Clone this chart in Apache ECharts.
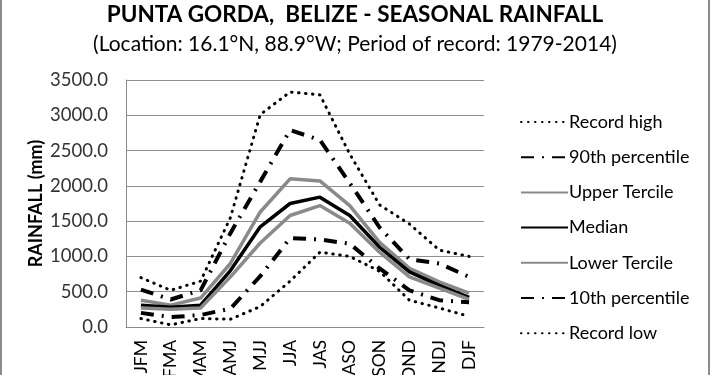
<!DOCTYPE html>
<html>
<head>
<meta charset="utf-8">
<script src="https://cdn.jsdelivr.net/npm/echarts@6/dist/echarts.min.js"></script>
<style>
html,body{margin:0;padding:0;background:#fff;}
#frame{position:absolute;left:0;top:0;width:706px;height:375px;border-left:2px solid #8c8c8c;border-right:2px solid #8c8c8c;}
#c{position:absolute;left:0;top:0;width:710px;height:375px;}
</style>
</head>
<body>
<div id="c"></div>
<div id="frame"></div>
<script>
const categories = ['JFM','FMA','MAM','AMJ','MJJ','JJA','JAS','ASO','SON','OND','NDJ','DJF'];
const recordHigh   = [700, 520, 650, 1550, 3010, 3330, 3290, 2450, 1730, 1460, 1090, 1000];
const p90          = [530, 390, 520, 1330, 2060, 2790, 2650, 2040, 1410, 960, 900, 710];
const upperTercile = [380, 310, 410, 900, 1630, 2100, 2070, 1720, 1200, 830, 640, 480];
const median       = [310, 280, 310, 800, 1420, 1750, 1840, 1580, 1130, 780, 590, 420];
const lowerTercile = [270, 250, 270, 710, 1190, 1580, 1720, 1470, 1060, 710, 550, 390];
const p10          = [200, 140, 170, 260, 720, 1260, 1240, 1180, 830, 520, 380, 350];
const recordLow    = [120, 30, 120, 110, 290, 650, 1060, 1000, 790, 380, 270, 150];
const yTicks = {min: 0, max: 3500, interval: 500};

const FONT = 'Lato';
const dotted = {color:'#000', width:3, type:[0.5,6.5], cap:'round'};
const dashDot = {color:'#000', width:4, type:[13,8,2,8], cap:'butt'};
function s(name, data, ls){
  return {name, type:'line', data, symbol:'none', smooth:false, lineStyle:ls, itemStyle:{color:ls.color}, z: 2};
}
const chart = echarts.init(document.getElementById('c'), null, {renderer:'canvas'});
chart.setOption({
  animation:false,
  backgroundColor:'#fff',
  title:[
    {text:'PUNTA GORDA,  BELIZE - SEASONAL RAINFALL', left:'center', top:-2,
     textStyle:{fontFamily:FONT, fontWeight:'bold', fontSize:22.5, color:'#000'}},
    {text:'(Location: 16.1°N, 88.9°W; Period of record: 1979-2014)', left:'center', top:29,
     textStyle:{fontFamily:FONT, fontWeight:'normal', fontSize:21, color:'#000'}}
  ],
  grid:{left:126, right:226, top:80, bottom:48, containLabel:false, outerBoundsMode:'none'},
  legend:{
    orient:'vertical', left:515, top:108, itemWidth:47, itemHeight:20, itemGap:17.2,
    itemStyle:{opacity:0, color:'rgba(0,0,0,0)', borderWidth:0},
    textStyle:{fontFamily:FONT, fontSize:18, color:'#000', padding:[0,0,0,-4]},
    data:['Record high','90th percentile','Upper Tercile','Median','Lower Tercile','10th percentile','Record low']
  },
  xAxis:{
    type:'category', data:categories, boundaryGap:true,
    axisLine:{lineStyle:{color:'#8c8c8c', width:1}},
    axisTick:{show:false},
    axisLabel:{rotate:90, margin:13, fontFamily:FONT, fontSize:17.5, color:'#000', interval:0}
  },
  yAxis:{
    type:'value', min:yTicks.min, max:yTicks.max, interval:yTicks.interval,
    name:'RAINFALL (mm)', nameLocation:'middle', nameGap:81, nameRotate:90, nameMoveOverlap:false,
    nameTextStyle:{fontFamily:FONT, fontWeight:'bold', fontSize:18, color:'#000'},
    axisLine:{show:true, lineStyle:{color:'#8c8c8c', width:1}},
    axisTick:{show:false},
    splitLine:{lineStyle:{color:'#8f8f8f', width:1}},
    axisLabel:{fontFamily:FONT, fontSize:18.5, color:'#333', margin:18, formatter:v=>v.toFixed(1)}
  },
  series:[
    s('Record high', recordHigh, dotted),
    s('90th percentile', p90, dashDot),
    s('Upper Tercile', upperTercile, {color:'#8a8a8a', width:3.5, type:'solid'}),
    s('Median', median, {color:'#000', width:3.5, type:'solid'}),
    s('Lower Tercile', lowerTercile, {color:'#8a8a8a', width:3.5, type:'solid'}),
    s('10th percentile', p10, dashDot),
    s('Record low', recordLow, dotted)
  ]
});
</script>
</body>
</html>
